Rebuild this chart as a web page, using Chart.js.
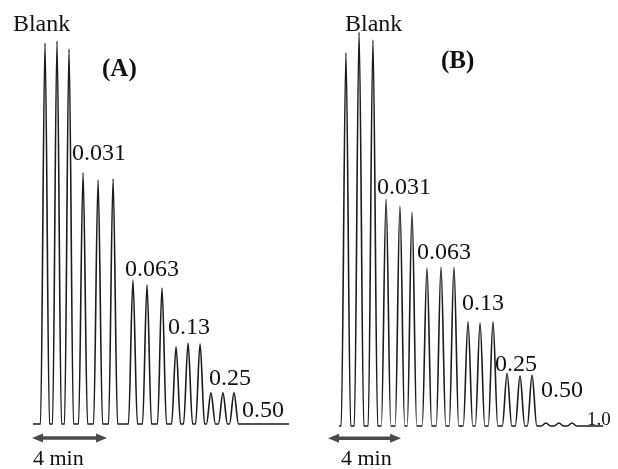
<!DOCTYPE html>
<html>
<head>
<meta charset="utf-8">
<script src="https://cdn.jsdelivr.net/npm/chart.js@4.4.1/dist/chart.umd.min.js"></script>
<style>
    html, body { margin: 0; padding: 0; background: #fff; }
    #wrap { position: relative; width: 618px; height: 469px; }
    .panel { position: absolute; top: 0; width: 309px; height: 469px; }
    #panelA { left: 0; }
    #panelB { left: 309px; }
</style>
</head>
<body>
<div id="wrap">
    <div class="panel" id="panelA"><canvas id="chartA" width="309" height="469"></canvas></div>
    <div class="panel" id="panelB"><canvas id="chartB" width="309" height="469"></canvas></div>
</div>
<script>
// 농도 라벨 (그룹당 3회 주입)
var groupLabelsA = ['Blank', '0.031', '0.063', '0.13', '0.25', '0.50'];
var groupLabelsB = ['Blank', '0.031', '0.063', '0.13', '0.25', '0.50', '1.0'];

// (A) 피크 시간(min) / 피크 높이(상대값)
var peakTimesA   = [0.64, 1.28, 1.92,  2.67, 3.47, 4.27,  5.33, 6.08, 6.88,  7.63, 8.27, 8.91,  9.49, 10.13, 10.72];
var peakHeightsA = [100.3, 100.8, 98.7, 66.1, 64.2, 64.5, 37.9, 36.6, 35.8, 20.3, 21.3, 21.1, 8.2, 8.2, 8.2];
var runEndA = 13.65;

// (B) 피크 시간(min) / 피크 높이(상대값)
var peakTimesB   = [0.38, 1.10, 1.86,  2.58, 3.34, 4.00,  4.82, 5.59, 6.30,  7.07, 7.73, 8.44,  9.21, 9.92, 10.58,  11.34, 12.05, 12.77];
var peakHeightsB = [98.2, 103.7, 101.6, 59.7, 57.9, 56.3, 41.6, 41.8, 41.8, 27.4, 27.1, 27.4, 13.9, 13.2, 13.4, 0.8, 0.8, 0.8];
var runEndB = 14.47;

// 시간 스케일 바
var scaleBarMin = 4;
var scaleBarText = '4 min';

(function(){

    var serif = '"Liberation Serif", "Times New Roman", serif';

    // 라벨 위치 (x: min, y: 신호)
    var panels = {
        A: {
            canvas: 'chartA', title: '(A)', times: peakTimesA, heights: peakHeightsA, end: runEndA,
            halfWidth: 0.24,
            xMin: -1.76, xMax: 14.72, yMin: -11.84, yMax: 111.6,
            titlePos: [3.68, 91.6],
            labels: groupLabelsA,
            labelPos: [[-1.07, 103.4], [2.08, 69.5], [4.91, 38.9], [7.20, 23.7], [9.39, 10.3], [11.15, 1.8]],
            barStart: -0.05, barY: -3.7, barTextPos: [0.0, -10.8]
        },
        B: {
            canvas: 'chartB', title: '(B)', times: peakTimesB, heights: peakHeightsB, end: runEndB,
            halfWidth: 0.26,
            xMin: -1.644, xMax: 15.29, yMin: -11.3, yMax: 112.1,
            titlePos: [5.59, 94.2],
            labels: groupLabelsB,
            labelPos: [[0.33, 103.9], [2.08, 61.1], [4.27, 43.9], [6.74, 30.5], [8.55, 14.5], [11.07, 7.6], [13.59, 0.3]],
            barStart: -0.60, barY: -3.2, barTextPos: [0.11, -10.3]
        }
    };

    // 피크 → 트레이스 포인트 (기준선 - 정점 - 기준선)
    function buildTrace(p) {
        var pts = [{x: 0, y: 0}];
        for (var i = 0; i < p.times.length; i++) {
            pts.push({x: p.times[i] - p.halfWidth, y: 0});
            pts.push({x: p.times[i], y: p.heights[i]});
            pts.push({x: p.times[i] + p.halfWidth, y: 0});
        }
        pts.push({x: p.end, y: 0});
        return pts;
    }

    function drawArrow(ctx, x1, x2, y) {
        var head = 11, half = 4.5;
        ctx.save();
        ctx.strokeStyle = '#4a4a4a';
        ctx.fillStyle = '#4a4a4a';
        ctx.lineWidth = 3.5;
        ctx.beginPath();
        ctx.moveTo(x1 + head - 2, y);
        ctx.lineTo(x2 - head + 2, y);
        ctx.stroke();
        ctx.beginPath();
        ctx.moveTo(x1, y);
        ctx.lineTo(x1 + head, y - half);
        ctx.lineTo(x1 + head, y + half);
        ctx.closePath();
        ctx.fill();
        ctx.beginPath();
        ctx.moveTo(x2, y);
        ctx.lineTo(x2 - head, y - half);
        ctx.lineTo(x2 - head, y + half);
        ctx.closePath();
        ctx.fill();
        ctx.restore();
    }

    // 텍스트 / 스케일 바 플러그인
    var annotate = {
        id: 'annotate',
        afterDatasetsDraw: function(chart) {
            var p = chart.options.plugins.annotate.panel;
            var ctx = chart.ctx, xs = chart.scales.x, ys = chart.scales.y;
            ctx.save();
            ctx.fillStyle = '#111';
            ctx.textBaseline = 'alphabetic';
            ctx.textAlign = 'left';
            ctx.font = '24px ' + serif;
            p.labels.forEach(function(lbl, i){
                var pos = p.labelPos[i];
                var size = lbl == '1.0' ? 19 : 24;
                ctx.font = size + 'px ' + serif;
                ctx.fillText(lbl, xs.getPixelForValue(pos[0]), ys.getPixelForValue(pos[1]));
            });
            ctx.font = 'bold 25px ' + serif;
            ctx.fillText(p.title, xs.getPixelForValue(p.titlePos[0]), ys.getPixelForValue(p.titlePos[1]));

            drawArrow(ctx, xs.getPixelForValue(p.barStart), xs.getPixelForValue(p.barStart + scaleBarMin), ys.getPixelForValue(p.barY));
            ctx.fillStyle = '#111';
            ctx.font = '22px ' + serif;
            ctx.fillText(scaleBarText, xs.getPixelForValue(p.barTextPos[0]), ys.getPixelForValue(p.barTextPos[1]));
            ctx.restore();
        }
    };

    function drawPanel(p) {
        var ctx = document.getElementById(p.canvas).getContext('2d');
        return new Chart(ctx, {
            type: 'line',
            data: {
                datasets: [{
                    data: buildTrace(p),
                    borderColor: '#1c1c1c',
                    borderWidth: 1.6,
                    pointRadius: 0,
                    fill: false,
                    cubicInterpolationMode: 'monotone'
                }]
            },
            options: {
                responsive: false,
                animation: false,
                layout: { padding: 0 },
                scales: {
                    x: { type: 'linear', min: p.xMin, max: p.xMax, display: false },
                    y: { type: 'linear', min: p.yMin, max: p.yMax, display: false }
                },
                plugins: {
                    legend: { display: false },
                    tooltip: { enabled: false },
                    annotate: { panel: p }
                }
            },
            plugins: [annotate]
        });
    }

    drawPanel(panels.A);
    drawPanel(panels.B);
})();
</script>
</body>
</html>
